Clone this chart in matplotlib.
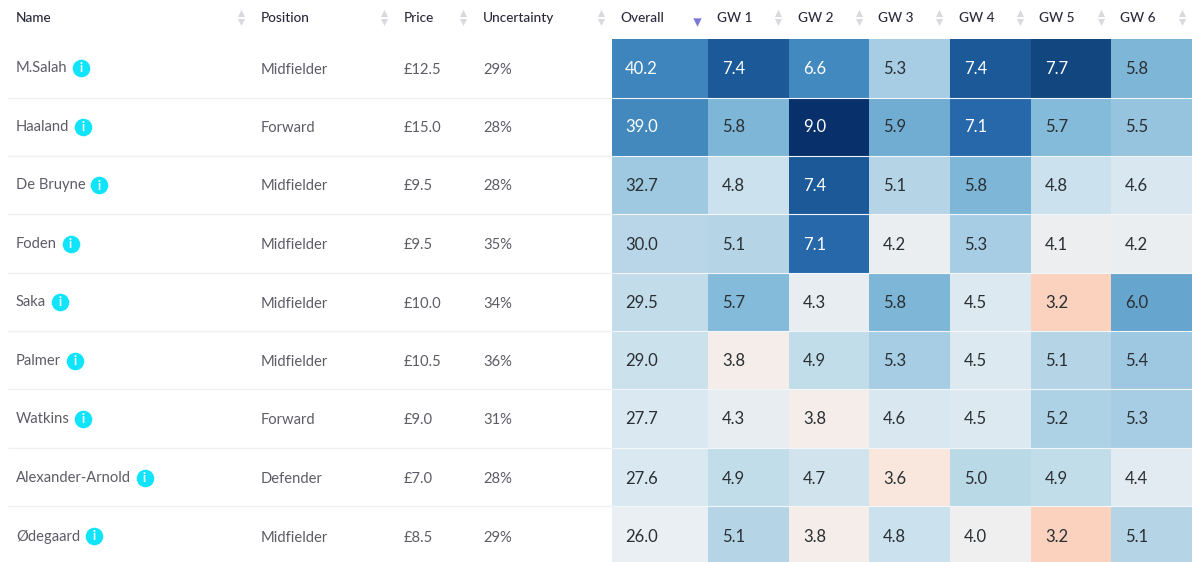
import matplotlib
matplotlib.use("Agg")
import matplotlib.pyplot as plt
import numpy as np
from matplotlib.colors import LinearSegmentedColormap, Normalize

plt.rcParams['font.family'] = ['Lato', 'DejaVu Sans']

names = ["M.Salah", "Haaland", "De Bruyne", "Foden", "Saka", "Palmer", "Watkins", "Alexander-Arnold", "Ødegaard"]
positions = ["Midfielder", "Forward", "Midfielder", "Midfielder", "Midfielder", "Midfielder", "Forward", "Defender", "Midfielder"]
prices = ["£12.5", "£15.0", "£9.5", "£9.5", "£10.0", "£10.5", "£9.0", "£7.0", "£8.5"]
uncertainty = ["29%", "28%", "28%", "35%", "34%", "36%", "31%", "28%", "29%"]
overall = [40.2, 39.0, 32.7, 30.0, 29.5, 29.0, 27.7, 27.6, 26.0]
gw1 = [7.4, 5.8, 4.8, 5.1, 5.7, 3.8, 4.3, 4.9, 5.1]
gw2 = [6.6, 9.0, 7.4, 7.1, 4.3, 4.9, 3.8, 4.7, 3.8]
gw3 = [5.3, 5.9, 5.1, 4.2, 5.8, 5.3, 4.6, 3.6, 4.8]
gw4 = [7.4, 7.1, 5.8, 5.3, 4.5, 4.5, 4.5, 5.0, 4.0]
gw5 = [7.7, 5.7, 4.8, 4.1, 3.2, 5.1, 5.2, 4.9, 3.2]
gw6 = [5.8, 5.5, 4.6, 4.2, 6.0, 5.4, 5.3, 4.4, 5.1]
headers = ["Name", "Position", "Price", "Uncertainty", "Overall", "GW 1", "GW 2", "GW 3", "GW 4", "GW 5", "GW 6"]

W, H = 1200, 562
x_edges = np.array([612, 708, 789, 869, 950, 1031, 1111, 1192])
y_edges = np.array([39, 97.5, 155.5, 214, 272.5, 331, 389, 447.5, 506, 564])
row_mid = np.array([68, 126.5, 185, 243.5, 302, 360.5, 418.5, 477.5, 536])

fig = plt.figure(figsize=(W / 100, H / 100), dpi=100, facecolor='white')
ax = fig.add_axes([0, 0, 1, 1])
ax.set_xlim(0, W)
ax.set_ylim(H, 0)
ax.axis('off')


def stops_cmap(name, vmin, vmax, stops):
    return LinearSegmentedColormap.from_list(
        name, [((v - vmin) / (vmax - vmin), c) for v, c in stops]), Normalize(vmin, vmax)


gw_cmap, gw_norm = stops_cmap('gw', 3.2, 9.0, [
    (3.2, '#fad2bd'), (3.6, '#f9e8df'), (3.8, '#f5ede9'), (4.0, '#efefef'), (4.3, '#e8edf2'),
    (4.5, '#dde9f1'), (4.8, '#cbe1ed'), (5.0, '#bad9e7'), (5.1, '#b4d5e7'),
    (5.3, '#a7cde4'), (5.8, '#7db6d7'), (6.0, '#66a5cd'), (6.6, '#438ac0'),
    (7.1, '#2869ab'), (7.4, '#1b5a9a'), (7.7, '#11467f'), (9.0, '#08306b')])
ov_cmap, ov_norm = stops_cmap('ov', 26.0, 40.2, [
    (26.0, '#e9eff2'), (27.7, '#d9e8f1'), (29.0, '#cbe1ec'), (29.5, '#c2dcea'), (30.0, '#b8d6e7'),
    (32.7, '#9fc9e0'), (39.0, '#4389be'), (40.2, '#3d85bc')])

gw_vals = np.array([gw1, gw2, gw3, gw4, gw5, gw6]).T
ov_vals = np.array(overall)
rgba = np.zeros((len(names), 7, 4))
rgba[:, 0] = ov_cmap(ov_norm(ov_vals))
rgba[:, 1:] = gw_cmap(gw_norm(gw_vals))

# heat cells
for i in range(len(names)):
    for j in range(7):
        ax.fill_between([x_edges[j], x_edges[j + 1]], y_edges[i], y_edges[i + 1],
                        color=rgba[i, j], lw=0, zorder=1)

# row separators
for y in y_edges[1:-1]:
    ax.plot([8, 612], [y, y], color='#eef0f1', lw=1.0, zorder=2, solid_capstyle='butt')
    ax.plot([612, 1192], [y, y], color='#f2f6f8', lw=0.8, zorder=2, solid_capstyle='butt')

dark = '#2a2a3c'
grey = '#5c5c66'
fs = 10.6

# headers
hx = [16, 261, 404, 483, 620, 717, 798, 878, 959, 1039, 1120]
ax_x = [241, 384, 463, 601, 697, 778, 859, 939, 1020, 1101, 1182]
for t, x in zip(headers, hx):
    ax.text(x, 17.5, t, fontsize=9.8, color=dark, ha='left', va='center', weight='medium')
for k, x in enumerate(ax_x):
    if headers[k] == "Overall":
        ax.scatter([x], [22], marker='v', s=36, color='#7a78d8', lw=0, zorder=3)
    else:
        ax.scatter([x], [12.5], marker='^', s=26, color='#d9d9de', lw=0, zorder=3)
        ax.scatter([x], [22], marker='v', s=26, color='#d9d9de', lw=0, zorder=3)

# text columns
renderer = fig.canvas.get_renderer()
for i, y in enumerate(row_mid):
    t = ax.text(16, y + 0.5, names[i], fontsize=fs, color=grey, ha='left', va='center')
    bb = t.get_window_extent(renderer)
    cx = bb.x1 + 13.5
    ax.scatter([cx], [y], s=160, color='#10e4fa', lw=0, zorder=3)
    ax.text(cx, y + 0.5, "i", fontsize=9, color='white', ha='center', va='center', weight='bold', zorder=4)
    ax.text(261, y + 1.5, positions[i], fontsize=fs, color=grey, ha='left', va='center')
    ax.text(404, y + 1.5, prices[i], fontsize=fs, color=grey, ha='left', va='center')
    ax.text(483, y + 1.5, uncertainty[i], fontsize=fs, color=grey, ha='left', va='center')

# cell values
vx = [625, 722, 803, 883, 964, 1045, 1125]
all_vals = np.column_stack([ov_vals, gw_vals])
for i, y in enumerate(row_mid):
    for j in range(7):
        v = all_vals[i, j]
        lum = rgba[i, j, :3] @ np.array([0.299, 0.587, 0.114])
        ax.text(vx[j], y + 1, f"{v:.1f}", fontsize=12, ha='left', va='center',
                color='white' if lum < 0.52 else '#2a2f33', zorder=4)

fig.savefig('out.png', dpi=100, facecolor='white')
